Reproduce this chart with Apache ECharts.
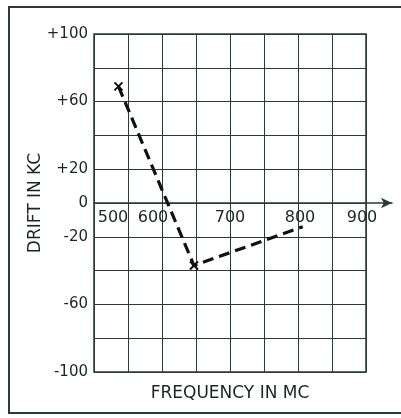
<!DOCTYPE html>
<html>
<head>
<meta charset="utf-8">
<script src="https://cdn.jsdelivr.net/npm/echarts@6/dist/echarts.min.js"></script>
<style>
html,body{margin:0;padding:0;background:#fff;}
#c{width:401px;height:418px;}
</style>
</head>
<body>
<div id="c"></div>
<script>
// Data
const frequency = [536, 647, 807];          // MC
const drift = [69, -37, -14];               // KC
const markerShown = [true, true, false];
const xTickValues = [500, 600, 700, 800, 900];
const xTickLabels = ['500', '600', '700', '800', '900'];
const yTickValues = [100, 60, 20, 0, -20, -60, -100];
const yTickLabels = ['+100', '+60', '+20', '0', '-20', '-60', '-100'];

const INK = '#2b3a33';
const TEXT = '#1c2620';
const FONT = 'DejaVu Sans';

const chart = echarts.init(document.getElementById('c'), null, {renderer: 'canvas'});

const xLabelRich = {
  a: {padding: [0, 0, 0, 38], fontSize: 16, fontFamily: FONT, color: TEXT},
  b: {padding: [0, 18, 0, 0], fontSize: 16, fontFamily: FONT, color: TEXT},
  c: {padding: [0, 0, 0, 0], fontSize: 16, fontFamily: FONT, color: TEXT},
  d: {padding: [0, 0, 0, 4], fontSize: 16, fontFamily: FONT, color: TEXT},
  e: {padding: [0, 8, 0, 0], fontSize: 16, fontFamily: FONT, color: TEXT}
};
const richKeys = ['a', 'b', 'c', 'd', 'e'];

const seriesData = frequency.map((f, i) => ({
  value: [f, drift[i]],
  symbol: markerShown[i] ? 'path://M0,0L10,10M10,0L0,10' : 'none'
}));

const gridBase = {outerBoundsMode: 'none', containLabel: false};

chart.setOption({
  animation: false,
  backgroundColor: '#fff',
  grid: [
    // 0: main plot
    Object.assign({left: 94, top: 34, width: 272, height: 338, show: true, borderColor: INK, borderWidth: 1.5, backgroundColor: 'transparent'}, gridBase),
    // 1: zero axis with arrow, extends past the plot
    Object.assign({left: 94, top: 34, width: 298, height: 338, show: false}, gridBase),
    // 2: outer frame
    Object.assign({left: 9, top: 7, width: 410, height: 406, show: true, borderColor: INK, borderWidth: 2, backgroundColor: 'transparent', z: 0}, gridBase),
    // 3: x axis name under the plot
    Object.assign({left: 94, top: 34, width: 272, height: 338, show: false}, gridBase),
    // 4: upper half of the plot; its bottom edge is the zero line, carrying the frequency labels
    Object.assign({left: 94, top: 34, width: 272, height: 169, show: false}, gridBase)
  ],
  xAxis: [
    {
      gridIndex: 0, type: 'value', min: 500, max: 900, interval: 50,
      axisLine: {show: false, onZero: false},
      axisTick: {show: false}, axisLabel: {show: false},
      splitLine: {show: true, lineStyle: {color: INK, width: 1}}
    },
    {
      gridIndex: 1, type: 'value', min: 500, max: 938,
      axisLine: {show: true, onZero: true, symbol: ['none', 'arrow'], symbolSize: [8, 11], lineStyle: {color: INK, width: 1.5}},
      axisTick: {show: false}, splitLine: {show: false}, axisLabel: {show: false}
    },
    {gridIndex: 2, type: 'value', show: false},
    {
      gridIndex: 3, type: 'value', min: 500, max: 900, position: 'bottom',
      axisLine: {show: false, onZero: false}, axisTick: {show: false},
      axisLabel: {show: false}, splitLine: {show: false},
      name: 'FREQUENCY IN MC', nameLocation: 'middle', nameGap: 13, nameMoveOverlap: false,
      nameTextStyle: {fontSize: 17, fontFamily: FONT, color: TEXT, verticalAlign: 'top'}
    },
    {
      gridIndex: 4, type: 'value', min: 500, max: 900, interval: 100, position: 'bottom',
      axisLine: {show: false, onZero: false}, axisTick: {show: false}, splitLine: {show: false},
      axisLabel: {
        margin: 7,
        formatter: function (v) {
          const k = xTickValues.indexOf(v);
          if (k < 0) return '';
          return '{' + richKeys[k] + '|' + xTickLabels[k] + '}';
        },
        rich: xLabelRich,
        fontSize: 16, fontFamily: FONT, color: TEXT,
        showMinLabel: true, showMaxLabel: true, hideOverlap: false
      }
    }
  ],
  yAxis: [
    {
      gridIndex: 0, type: 'value', min: -100, max: 100, interval: 20,
      axisLine: {show: false, onZero: false}, axisTick: {show: false},
      splitLine: {show: true, lineStyle: {color: INK, width: 1}},
      axisLabel: {
        margin: 6,
        formatter: function (v) {
          const k = yTickValues.indexOf(v);
          return k < 0 ? '' : yTickLabels[k];
        },
        fontSize: 15, fontFamily: FONT, color: TEXT
      },
      name: 'DRIFT IN KC', nameLocation: 'middle', nameGap: 50, nameRotate: 90, nameMoveOverlap: false,
      nameTextStyle: {fontSize: 17, fontFamily: FONT, color: TEXT}
    },
    {gridIndex: 1, type: 'value', min: -100, max: 100, show: false},
    {gridIndex: 2, type: 'value', show: false},
    {gridIndex: 3, type: 'value', min: -100, max: 100, show: false},
    {gridIndex: 4, type: 'value', min: 0, max: 100, show: false}
  ],
  series: [{
    type: 'line',
    xAxisIndex: 0, yAxisIndex: 0,
    data: seriesData,
    symbolSize: 8,
    itemStyle: {color: 'rgba(0,0,0,0)', borderColor: '#111', borderWidth: 2},
    lineStyle: {color: '#111', width: 3.2, type: [11, 6]},
    z: 5
  }]
});
</script>
</body>
</html>
